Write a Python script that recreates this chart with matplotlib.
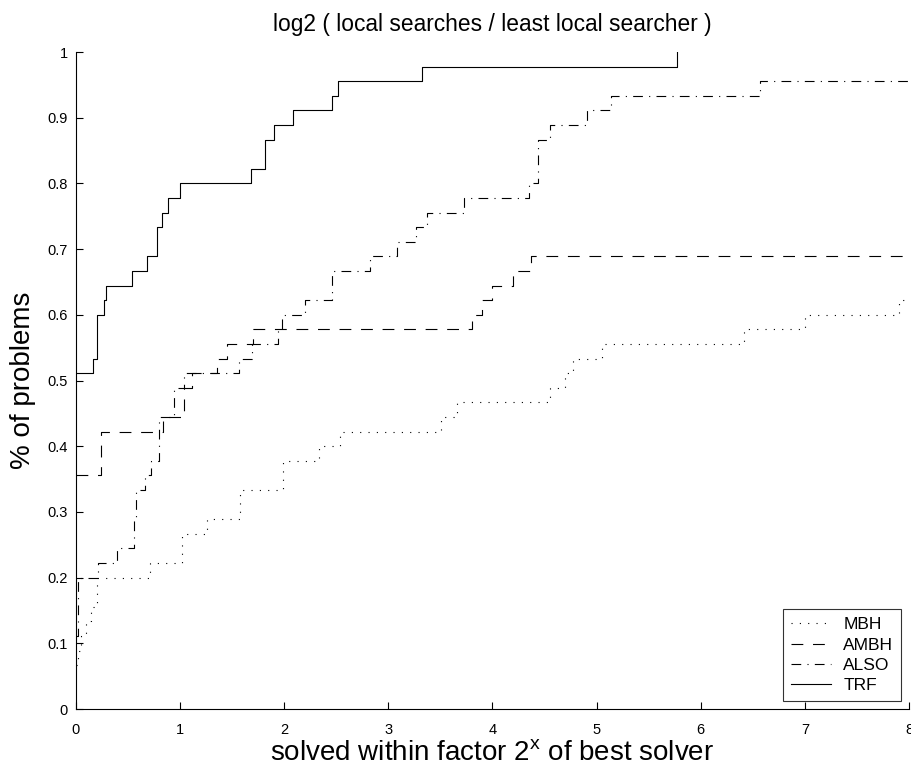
import matplotlib.pyplot as plt

plt.rcParams['font.family'] = ['Liberation Sans', 'DejaVu Sans']
plt.rcParams['lines.scale_dashes'] = False

n_problems = 45

# step profiles: x where the curve jumps, and number of problems solved after the jump
mbh_x = [0, 0.02, 0.05, 0.10, 0.14, 0.20, 0.71, 1.02, 1.26, 1.575, 1.99, 2.33, 2.54,
         3.51, 3.66, 4.55, 4.70, 4.77, 5.05, 6.42, 7.00, 7.90, 8.0]
mbh_n = [3, 4, 5, 6, 7, 9, 10, 12, 13, 15, 17, 18, 19,
         20, 21, 22, 23, 24, 25, 26, 27, 28, 28]

ambh_x = [0, 0.24, 0.84, 1.04, 1.11, 1.35, 1.45, 1.70, 3.80, 3.90, 4.00, 4.20, 4.37, 8.0]
ambh_n = [16, 19, 20, 22, 23, 24, 25, 26, 27, 28, 29, 30, 31, 31]

also_x = [0, 0.015, 0.21, 0.39, 0.56, 0.58, 0.66, 0.72, 0.80, 0.945, 1.04, 1.57, 1.69,
          1.94, 1.98, 2.20, 2.46, 2.82, 3.08, 3.27, 3.37, 3.73, 4.35, 4.44, 4.55,
          4.91, 5.14, 6.57, 8.0]
also_n = [5, 9, 10, 11, 13, 15, 16, 17, 20, 22, 23, 24, 25,
          26, 27, 28, 30, 31, 32, 33, 34, 35, 36, 39, 40,
          41, 42, 43, 43]

trf_x = [0, 0.16, 0.20, 0.27, 0.29, 0.535, 0.68, 0.775, 0.83, 0.887, 1.0, 1.678, 1.82,
         1.905, 2.08, 2.46, 2.52, 3.32, 5.77]
trf_n = [23, 24, 27, 28, 29, 30, 31, 33, 34, 35, 36, 37, 39,
         40, 41, 42, 43, 44, 45]

fig = plt.figure(figsize=(9.12, 7.7), dpi=100)
ax = fig.add_axes([0.0833, 0.0792, 0.9134, 0.8532])

lw = 0.8
ax.step(mbh_x, [v / n_problems for v in mbh_n], where='post', color='black', lw=lw,
        linestyle=(0, (0.8, 5.2)), label='MBH')
ax.step(ambh_x, [v / n_problems for v in ambh_n], where='post', color='black', lw=lw,
        linestyle=(0, (8.5, 7.0)), label='AMBH')
ax.step(also_x, [v / n_problems for v in also_n], where='post', color='black', lw=lw,
        linestyle=(0, (7.0, 4.5, 0.8, 4.5)), label='ALSO')
ax.step(trf_x, [v / n_problems for v in trf_n], where='post', color='black', lw=lw,
        linestyle='-', label='TRF')

ax.set_xlim(0, 8)
ax.set_ylim(0, 1)
ax.set_xticks(range(0, 9))
ax.set_yticks([i / 10 for i in range(11)])
ax.set_yticklabels(['0', '0.1', '0.2', '0.3', '0.4', '0.5', '0.6', '0.7', '0.8', '0.9', '1'])
ax.tick_params(direction='in', length=5, width=0.8, labelsize=10.5)
ax.tick_params(axis='x', pad=10)
ax.tick_params(axis='y', pad=6)
ax.spines['top'].set_visible(False)
ax.spines['right'].set_visible(False)
ax.spines['left'].set_linewidth(0.8)
ax.spines['bottom'].set_linewidth(0.8)

ax.set_title('log2 ( local searches / least local searcher )', fontsize=16.4, pad=15.5)
ax.set_xlabel('solved within factor 2$^\\mathregular{x}$ of best solver', fontsize=20, labelpad=3)
ax.set_ylabel('% of problems', fontsize=20, labelpad=8)

leg = ax.legend(loc='lower right', fontsize=12.5, frameon=True, fancybox=False,
                edgecolor='black', handlelength=2.3, handletextpad=0.7, borderpad=0.45,
                labelspacing=0.3, borderaxespad=0.45)
leg.get_frame().set_linewidth(0.8)

fig.savefig('out.png', dpi=100)
